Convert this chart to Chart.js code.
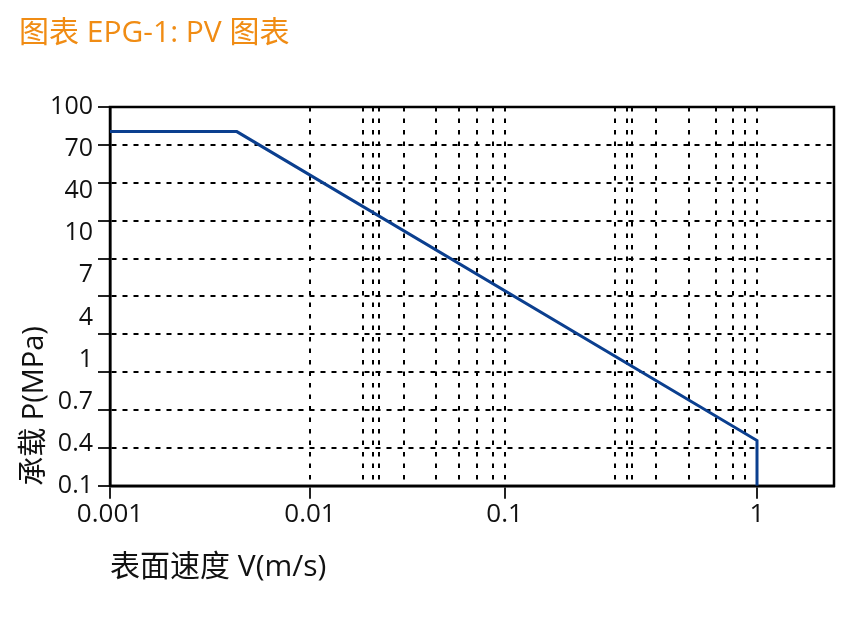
<!DOCTYPE html>
<html>
<head>
<meta charset="utf-8">
<script src="https://cdn.jsdelivr.net/npm/chart.js@4.4.1/dist/chart.umd.min.js"></script>
<style>
  html, body { margin:0; padding:0; background:#fff; }
  #wrap { width:860px; height:629px; }
</style>
</head>
<body>
<div id="wrap"><canvas id="pvChart" width="860" height="629"></canvas></div>
<script>
// chart text
const chartTitle = '图表 EPG-1: PV 图表';
const xTitle = '表面速度 V(m/s)';
const yTitle = '承载 P(MPa)';

// x axis: drawn units (the reference decades are not evenly spaced)
const xLabels = ['0.001', '0.01', '0.1', '1'];
const xLabelAt = [0, 1, 1.973, 3.235];
const xMinorGrid = [1.2625, 1.315, 1.345, 1.4675, 1.63, 1.745, 1.8335, 1.9135,
                    2.525, 2.5835, 2.6085, 2.73, 2.8935, 3.03, 3.115, 3.175];
const xMax = 3.62;

// y axis: labels sit on 9 even steps, grid lines on 10 even steps
const yLabels = ['0.1', '0.4', '0.7', '1', '4', '7', '10', '40', '70', '100'];
const yGridSteps = 10;

// PV limit curve (x in drawn units, y in grid steps)
const curveX = [0, 0.634, 3.235, 3.235];
const curveY = [9.35, 9.35, 1.195, 0];

const FONT = '"Open Sans", "Noto Sans CJK SC", sans-serif';
const isLabelTick = v => xLabelAt.some(p => Math.abs(p - v) < 1e-6);

// frame round the plot area
const framePlugin = {
  id: 'frame',
  beforeDatasetsDraw(chart){
    const a = chart.chartArea, ctx = chart.ctx;
    ctx.save();
    ctx.strokeStyle = '#000';
    ctx.lineWidth = 2.5;
    ctx.strokeRect(a.left, a.top, a.right - a.left, a.bottom - a.top);
    ctx.restore();
  }
};

const ctx = document.getElementById('pvChart').getContext('2d');
new Chart(ctx, {
  type: 'line',
  data: {
    datasets: [{
      data: curveX.map((x, i) => ({ x, y: curveY[i] })),
      borderColor: '#0b3f8f',
      borderWidth: 3,
      pointRadius: 0,
      tension: 0,
      fill: false,
      yAxisID: 'y'
    }]
  },
  options: {
    responsive: false,
    animation: false,
    layout: { padding: { left: 19, right: 26, bottom: 44, top: 0 } },
    plugins: {
      legend: { display: false },
      tooltip: { enabled: false },
      title: {
        display: true,
        text: chartTitle,
        align: 'start',
        color: '#f08c14',
        font: { family: FONT, size: 30, weight: 'normal', lineHeight: 1.2 },
        padding: { top: 15, bottom: 56 }
      }
    },
    scales: {
      x: {
        type: 'linear',
        min: 0,
        max: xMax,
        afterBuildTicks: axis => {
          axis.ticks = xLabelAt.concat(xMinorGrid).sort((a, b) => a - b).map(v => ({ value: v }));
        },
        ticks: {
          autoSkip: false,
          maxRotation: 0,
          padding: 0,
          color: '#111',
          font: { family: FONT, size: 26 },
          callback: v => {
            const i = xLabelAt.findIndex(p => Math.abs(p - v) < 1e-6);
            return i >= 0 ? xLabels[i] : '';
          }
        },
        grid: {
          color: '#000',
          lineWidth: 2,
          tickLength: 13,
          tickWidth: 2,
          tickColor: c => (c.tick && isLabelTick(c.tick.value)) ? '#222' : 'rgba(0,0,0,0)'
        },
        border: { display: true, color: '#000', width: 2.5, dash: [4.5, 7] },
        title: {
          display: true,
          text: xTitle,
          align: 'start',
          color: '#111',
          font: { family: FONT, size: 30, lineHeight: 1.2 },
          padding: { top: 19, bottom: 0 }
        }
      },
      y: {
        type: 'linear',
        position: 'left',
        weight: 0,
        min: 0,
        max: yGridSteps,
        ticks: { display: false, stepSize: 1 },
        grid: { color: '#000', lineWidth: 2, tickLength: 12, tickWidth: 2, tickColor: '#222' },
        border: { display: true, color: '#000', width: 2.5, dash: [5, 6] },
        afterFit: axis => { axis.width = 12; }
      },
      yl: {
        type: 'linear',
        position: 'left',
        weight: 1,
        min: 0,
        max: yLabels.length - 1,
        grid: { display: false, drawTicks: false },
        border: { display: false },
        ticks: {
          stepSize: 1,
          padding: 5,
          color: '#111',
          font: { family: FONT, size: 25 },
          callback: v => yLabels[v]
        },
        title: {
          display: true,
          text: yTitle,
          align: 'start',
          color: '#111',
          font: { family: FONT, size: 29, lineHeight: 1.1 },
          padding: { top: 0, bottom: 0 }
        },
        afterFit: axis => { axis.width = 79; }
      }
    }
  },
  plugins: [framePlugin]
});
</script>
</body>
</html>
